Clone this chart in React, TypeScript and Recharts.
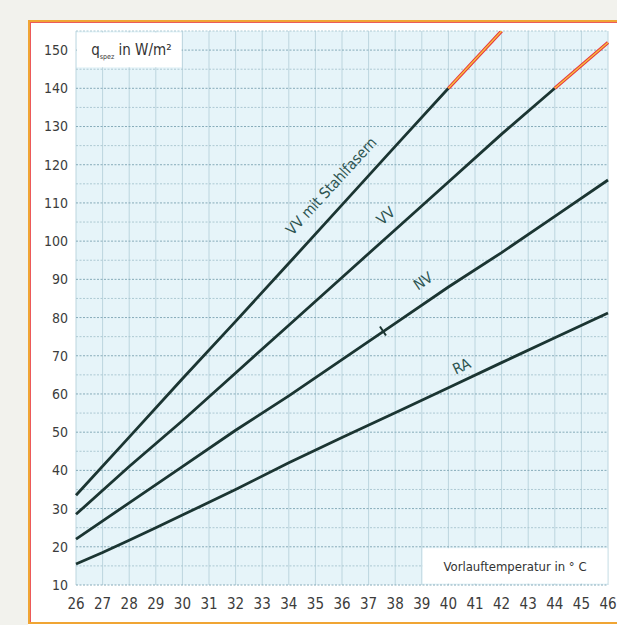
import { LineChart, Line, XAxis, YAxis, ReferenceLine, ReferenceArea, ReferenceDot } from "recharts";

// Vorlauftemperatur (°C) / spezifische Heizleistung (W/m²)
const X_TICKS = [26, 27, 28, 29, 30, 31, 32, 33, 34, 35, 36, 37, 38, 39, 40, 41, 42, 43, 44, 45, 46];
const Y_TICKS = [10, 20, 30, 40, 50, 60, 70, 80, 90, 100, 110, 120, 130, 140, 150];
const Y_MINOR = [15, 25, 35, 45, 55, 65, 75, 85, 95, 105, 115, 125, 135, 145, 155];

const VVS_T = [26, 28, 30, 32, 34, 36, 38, 40];
const VVS_Q = [33.5, 48.7, 64, 79, 94.2, 109.5, 124.8, 140];
const VVS_OVER_T = [40, 42];
const VVS_OVER_Q = [140, 155];

const VV_T = [26, 28, 30, 32, 34, 36, 38, 40, 42, 44];
const VV_Q = [28.5, 41, 53, 65.5, 78, 90.5, 103, 115.5, 128, 140];
const VV_OVER_T = [44, 46];
const VV_OVER_Q = [140, 152];

const NV_T = [26, 28, 30, 32, 34, 36, 38, 40, 42, 44, 46];
const NV_Q = [22, 31.5, 41, 50.5, 59.5, 69, 78.5, 88, 97, 106.5, 116];

const RA_T = [26, 27, 28, 29, 30, 32, 34, 36, 38, 40, 42, 44, 46];
const RA_Q = [15.5, 18.5, 21.7, 25, 28.3, 35, 42, 48.6, 55.1, 61.6, 68.2, 74.7, 81.2];

const LINE_LABELS = [
  { text: "VV mit Stahlfasern", t: 35.6, q: 114.4, angle: 47.5 },
  { text: "VV", t: 37.65, q: 106.6, angle: 41.7 },
  { text: "NV", t: 39.05, q: 89.5, angle: 33.9 },
  { text: "RA", t: 40.5, q: 67.2, angle: 25.2 },
];

const toPoints = (ts: number[], qs: number[]) => ts.map((t, i) => ({ t, q: qs[i] }));

const FONT = "'Liberation Sans Narrow', 'DejaVu Sans Condensed', 'Roboto Condensed', sans-serif";
const LINE_COLOR = "#1b3532";
const LABEL_COLOR = "#2e5552";
const TICK_COLOR = "#3c3c3c";
const FRAME = "#f0a534";

const QLabel = ({ viewBox }: any) => {
  const cx = viewBox.x + viewBox.width / 2;
  const cy = viewBox.y + viewBox.height / 2;
  return (
    <text x={cx - 38} y={cy + 5} fontFamily={FONT} fontSize={15} fill="#333">
      q
      <tspan fontSize={7} dy={4}>spez</tspan>
      <tspan dy={-4}> in W/m²</tspan>
    </text>
  );
};

const AxisBoxLabel = ({ viewBox }: any) => (
  <text
    x={viewBox.x + viewBox.width / 2}
    y={viewBox.y + viewBox.height / 2 + 5}
    textAnchor="middle"
    fontFamily={FONT}
    fontSize={13}
    fill="#333"
  >
    Vorlauftemperatur in ° C
  </text>
);

const bar = (left: number, top: number, width: number, height: number, color: string) => (
  <div style={{ position: "absolute", left, top, width, height, background: color }} />
);

export default function App() {
  return (
    <div style={{ position: "fixed", left: 0, top: 0, width: 617, height: 625, background: "#f2f2ed", overflow: "hidden" }}>
      {/* frame, open to the right like the cropped original */}
      <div style={{ position: "absolute", left: 28, top: 20, width: 589, height: 605, background: "#fff" }} />
      {bar(28, 20, 589, 2, FRAME)}
      {bar(28, 20, 2, 604, FRAME)}
      {bar(28, 622, 589, 2, FRAME)}
      {bar(30, 22, 587, 1, "#ec5a5a")}
      {bar(30, 22, 1, 600, "#ec5a5a")}
      <div style={{ position: "absolute", left: 0, top: 0 }}>
        <LineChart width={617} height={625} margin={{ top: 31, right: 9, bottom: 0, left: 0 }}>
          <XAxis
            dataKey="t"
            type="number"
            domain={[26, 46]}
            ticks={X_TICKS}
            interval={0}
            axisLine={false}
            tickLine={false}
            tickSize={0}
            tickMargin={13}
            height={40}
            tick={{ fontSize: 15, fill: TICK_COLOR, fontFamily: FONT }}
            allowDuplicatedCategory={false}
          />
          <YAxis
            type="number"
            domain={[10, 155]}
            ticks={Y_TICKS}
            interval={0}
            axisLine={false}
            tickLine={false}
            tickSize={0}
            tickMargin={8}
            width={76}
            allowDataOverflow
            tick={{ fontSize: 14, fill: TICK_COLOR, fontFamily: FONT }}
          />
          <ReferenceArea x1={26} x2={46} y1={10} y2={155} fill="#e6f4f9" fillOpacity={1} stroke="none" zIndex={-300} />
          {X_TICKS.map((t) => (
            <ReferenceLine key={"v" + t} x={t} stroke="#bcd5de" strokeWidth={1} zIndex={-250} />
          ))}
          {Y_MINOR.map((q) => (
            <ReferenceLine key={"m" + q} y={q} stroke="#adc9d3" strokeWidth={1} strokeDasharray="2 1.5" zIndex={-240} />
          ))}
          {Y_TICKS.map((q) => (
            <ReferenceLine key={"h" + q} y={q} stroke="#86abb9" strokeWidth={1} strokeDasharray="2 1.5" zIndex={-230} />
          ))}
          <ReferenceArea x1={26.03} x2={29.97} y1={145.5} y2={154.6} fill="#fff" fillOpacity={1} stroke="none" zIndex={-200} label={<QLabel />} />
          <ReferenceArea x1={39.03} x2={45.98} y1={10.4} y2={19.6} fill="#fff" fillOpacity={1} stroke="none" zIndex={-200} label={<AxisBoxLabel />} />

          <Line data={toPoints(VVS_T, VVS_Q)} dataKey="q" stroke={LINE_COLOR} strokeWidth={2.8} dot={false} isAnimationActive={false} />
          <Line data={toPoints(VV_T, VV_Q)} dataKey="q" stroke={LINE_COLOR} strokeWidth={2.8} dot={false} isAnimationActive={false} />
          <Line data={toPoints(NV_T, NV_Q)} dataKey="q" stroke={LINE_COLOR} strokeWidth={2.8} dot={false} isAnimationActive={false} />
          <Line data={toPoints(RA_T, RA_Q)} dataKey="q" stroke={LINE_COLOR} strokeWidth={2.8} dot={false} isAnimationActive={false} />

          {/* over-limit parts: red with a yellow core */}
          <Line data={toPoints(VVS_OVER_T, VVS_OVER_Q)} dataKey="q" stroke="#e8323f" strokeWidth={3.4} dot={false} isAnimationActive={false} />
          <Line data={toPoints(VVS_OVER_T, VVS_OVER_Q)} dataKey="q" stroke="#f6c23a" strokeWidth={1.4} dot={false} isAnimationActive={false} />
          <Line data={toPoints(VV_OVER_T, VV_OVER_Q)} dataKey="q" stroke="#e8323f" strokeWidth={3.4} dot={false} isAnimationActive={false} />
          <Line data={toPoints(VV_OVER_T, VV_OVER_Q)} dataKey="q" stroke="#f6c23a" strokeWidth={1.4} dot={false} isAnimationActive={false} />

          <ReferenceDot
            x={37.54}
            y={76.6}
            r={4}
            zIndex={2000}
            shape={(p: any) => (
              <line x1={p.cx - 3} y1={p.cy - 4} x2={p.cx + 3} y2={p.cy + 5} stroke={LINE_COLOR} strokeWidth={2} />
            )}
          />
          {LINE_LABELS.map((l) => (
            <ReferenceDot
              key={l.text}
              x={l.t}
              y={l.q}
              r={4}
              zIndex={2000}
              shape={(p: any) => (
                <text
                  x={p.cx}
                  y={p.cy}
                  transform={`rotate(${-l.angle}, ${p.cx}, ${p.cy})`}
                  textAnchor="middle"
                  dominantBaseline="central"
                  fontFamily={FONT}
                  fontSize={15}
                  fill={LABEL_COLOR}
                >
                  {l.text}
                </text>
              )}
            />
          ))}
        </LineChart>
      </div>
    </div>
  );
}
